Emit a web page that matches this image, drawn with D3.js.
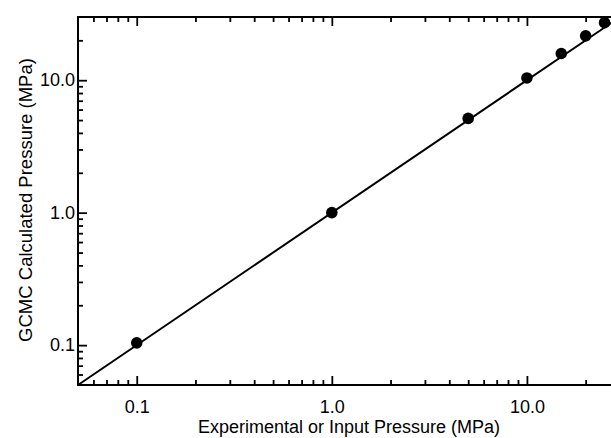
<!doctype html>
<html lang="en">
<head>
<meta charset="UTF-8" />
<title>GCMC vs experimental pressure</title>
<script src="https://cdn.jsdelivr.net/npm/d3@7"></script>
<style>
  html, body { margin: 0; padding: 0; background: #fff; }
  svg { display: block; font-family: "Liberation Sans", Arial, Helvetica, sans-serif; }
</style>
</head>
<body>
<svg id="chart" width="611" height="438"></svg>
<script>
// data
const inputPressure = [0.1, 1, 5, 10, 15, 20, 25];
const gcmcPressure  = [0.104, 1.0, 5.15, 10.4, 15.9, 21.6, 27.2];
const parityLine    = [0.05, 30];           // y = x reference line
const majorTicks    = [0.1, 1, 10];
const majorLabels   = ["0.1", "1.0", "10.0"];
const minorTicks    = [0.06, 0.07, 0.08, 0.09,
                       0.2, 0.3, 0.4, 0.5, 0.6, 0.7, 0.8, 0.9,
                       2, 3, 4, 5, 6, 7, 8, 9, 20];
const xTitle = "Experimental or Input Pressure (MPa)";
const yTitle = "GCMC Calculated Pressure (MPa)";

const svg = d3.select("#chart");
const plotL = 78, plotR = 620, plotT = 17, plotB = 385;

const x = d3.scaleLog().domain([0.05, 30]).range([plotL, plotR]);
const y = d3.scaleLog().domain([0.05, 30]).range([plotB, plotT]);

const fmt = d => majorLabels[majorTicks.indexOf(d)];

function style(g) {
  g.select(".domain").remove();
  g.selectAll(".tick line").attr("stroke", "#000").attr("stroke-width", 1.8);
  g.selectAll(".tick text").attr("fill", "#000").style("font-size", "18px");
}

// bottom axis (ticks point inward)
svg.append("g").attr("transform", `translate(0,${plotB})`)
  .call(d3.axisBottom(x).tickValues(majorTicks).tickFormat(fmt).tickSizeInner(-9).tickPadding(15))
  .call(style);
svg.append("g").attr("transform", `translate(0,${plotB})`)
  .call(d3.axisBottom(x).tickValues(minorTicks).tickFormat("").tickSizeInner(-5))
  .call(style);

// top axis
svg.append("g").attr("transform", `translate(0,${plotT})`)
  .call(d3.axisTop(x).tickValues(majorTicks).tickFormat("").tickSizeInner(-9))
  .call(style);
svg.append("g").attr("transform", `translate(0,${plotT})`)
  .call(d3.axisTop(x).tickValues(minorTicks).tickFormat("").tickSizeInner(-5))
  .call(style);

// left axis
svg.append("g").attr("transform", `translate(${plotL},0)`)
  .call(d3.axisLeft(y).tickValues(majorTicks).tickFormat(fmt).tickSizeInner(-9).tickPadding(3))
  .call(style);
svg.append("g").attr("transform", `translate(${plotL},0)`)
  .call(d3.axisLeft(y).tickValues(minorTicks).tickFormat("").tickSizeInner(-5))
  .call(style);

// frame
svg.append("path")
  .attr("d", `M${plotR},${plotT}H${plotL}V${plotB}H${plotR}`)
  .attr("fill", "none").attr("stroke", "#000").attr("stroke-width", 2);

// parity line
svg.append("line")
  .attr("x1", x(parityLine[0])).attr("y1", y(parityLine[0]))
  .attr("x2", x(parityLine[1])).attr("y2", y(parityLine[1]))
  .attr("stroke", "#000").attr("stroke-width", 2);

// points
svg.append("g").selectAll("circle")
  .data(inputPressure)
  .join("circle")
  .attr("cx", d => x(d))
  .attr("cy", (d, i) => y(gcmcPressure[i]))
  .attr("r", 5.8)
  .attr("fill", "#000");

// titles
svg.append("text")
  .attr("x", 349).attr("y", 433)
  .attr("text-anchor", "middle")
  .style("font-size", "18px")
  .text(xTitle);

svg.append("text")
  .attr("transform", "translate(32,200) rotate(-90)")
  .attr("text-anchor", "middle")
  .style("font-size", "18.5px")
  .text(yTitle);
</script>
</body>
</html>
